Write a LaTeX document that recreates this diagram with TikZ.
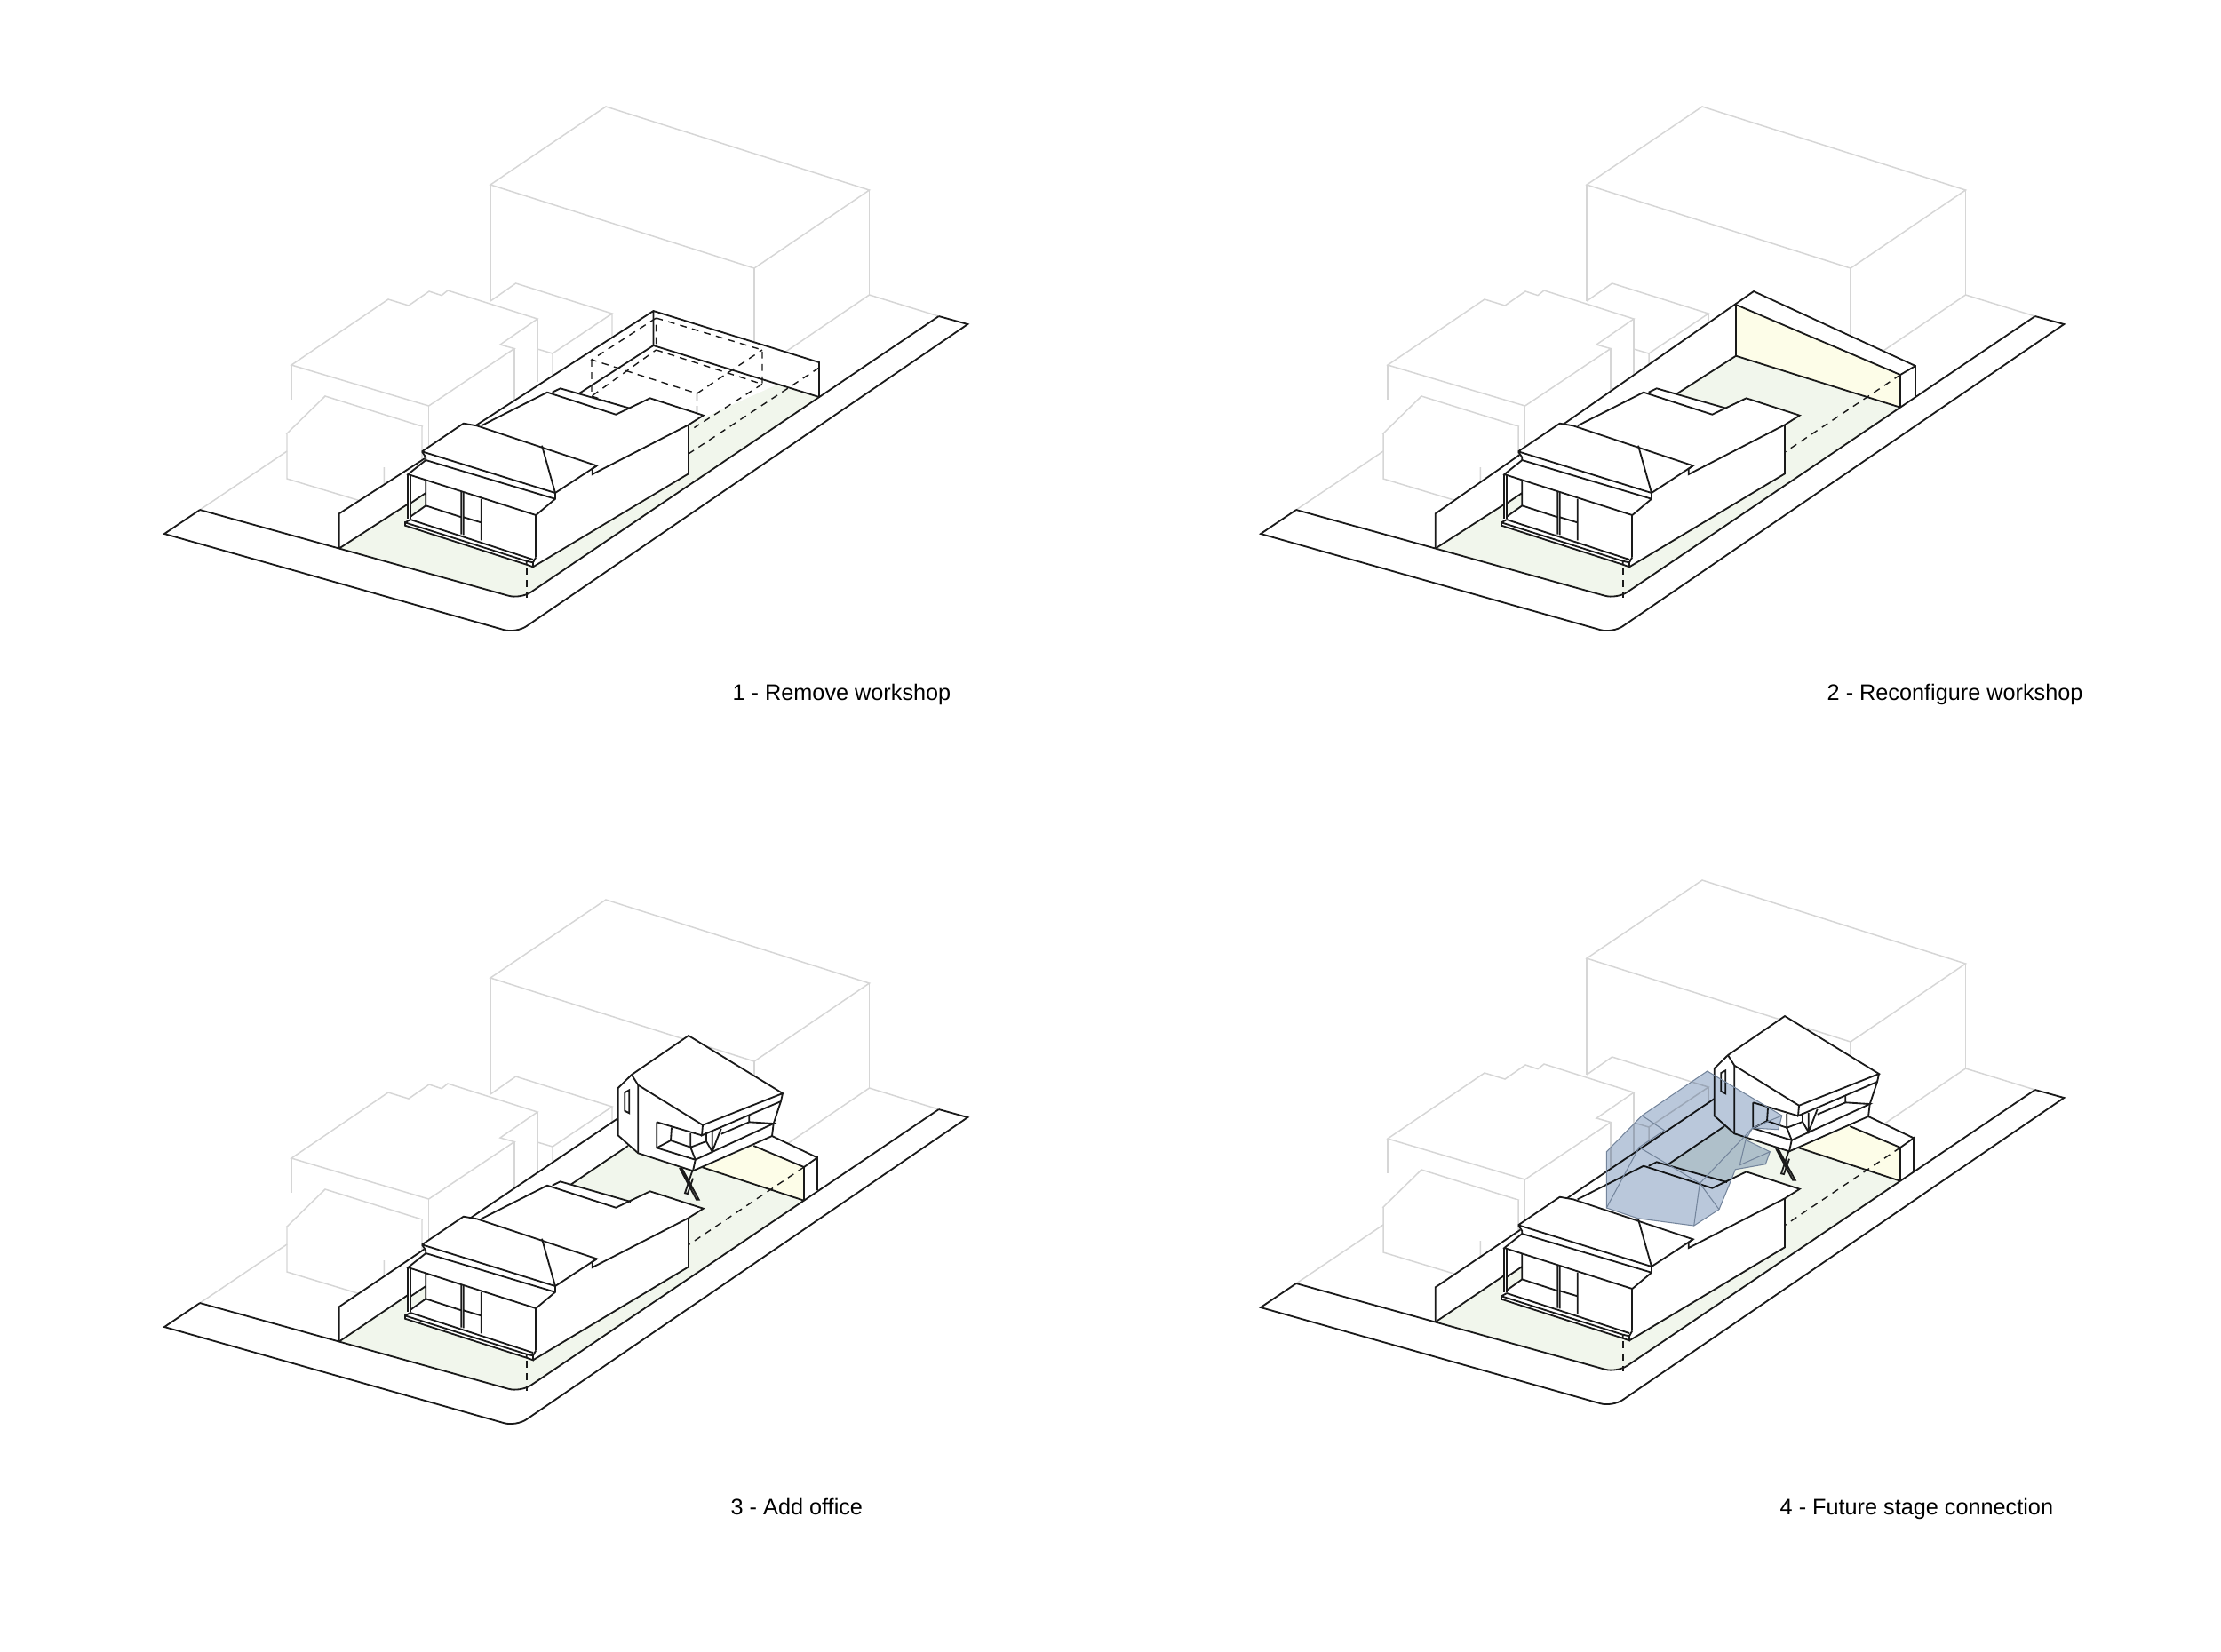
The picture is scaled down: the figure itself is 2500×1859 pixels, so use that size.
\documentclass[tikz,border=0pt]{standalone}
\usepackage{fontspec}
\setmainfont{Liberation Sans}
\usepackage{xcolor}
\definecolor{siteink}{HTML}{1A1A1A}
\definecolor{sitegrey}{HTML}{D6D6D6}
\definecolor{sitegreen}{HTML}{F1F6EC}
\definecolor{siteyellow}{HTML}{FDFDE8}
\definecolor{stageblue}{HTML}{BAC8DB}
\definecolor{stageedge}{HTML}{74859C}
\tikzset{
  inkline/.style={draw=siteink, line width=0.52pt, line join=miter},
  dashline/.style={draw=siteink, line width=0.4pt, dash pattern=on 2.2pt off 1.8pt},
  greyline/.style={draw=sitegrey, line width=0.42pt},
  stageline/.style={draw=stageedge, line width=0.3pt},
  stepcaption/.style={anchor=base west, inner sep=0pt, font=\fontsize{7.18}{9}\selectfont, text=black}
}
\newcommand{\neighbours}{
  \draw[greyline] (552,208) -- (682,120) -- (978.5,214) -- (849,302) -- cycle;
  \draw[greyline] (552,208) -- (552,339) (849,302) -- (849,400) (978.5,214) -- (978.5,332);
  \draw[greyline] (978.5,332) -- (1056.7,356) (978.5,332) -- (880,399);
  \draw[greyline] (552,339) -- (580.6,319) -- (689,353) -- (622,398) -- (605,393) (622,398) -- (622,430) (689,353) -- (689,380);
  \draw[greyline] (328,411) -- (437,337) -- (460,344) -- (483,328) -- (497,332.6) -- (504,327) -- (605,359) -- (563,388) -- (579,392.5) -- (482.6,457) -- cycle;
  \draw[greyline] (605,359) -- (605,430) (579,392.5) -- (579,470) (482.6,457) -- (482.6,510) (328,411) -- (328,450);
  \draw[greyline, fill=white] (323,488) -- (366,446) -- (475,480) -- (432.4,526) -- cycle;
  \draw[greyline, fill=white] (323,488) -- (323,539) -- (432.4,572) -- (475,540) -- (475,480) (432.4,526) -- (432.4,572);
  \draw[greyline] (323,508) -- (225,574);
}
\newcommand{\siteroad}{
  \draw[inkline] (225,574) -- (185,601) [rounded corners=4pt] -- (581,713) [sharp corners] -- (1089.3,365) -- (1056.7,356);
}
\newcommand{\frontedge}{
  \draw[inkline] (225,574) -- (381.7,617.5) [rounded corners=4pt] -- (586,674.5) [sharp corners] -- (1056.7,356);
}
\newcommand{\sitehouse}{
  \fill[white] (475,508.3) -- (521.7,476.7) -- (536.7,479.3) -- (616,441.7) -- (630.7,437.3) -- (710,460) -- (731.7,448.3) -- (791.7,467.7) -- (775,478.3) -- (775,533.3) -- (600,638.3) -- (592.7,635.7) -- (456,591.7) -- (456,588.3) -- (459.3,581.7) -- (459.3,534) -- (479.3,518) -- cycle;
  \fill[sitegreen] (462,566.7) -- (479.3,555) -- (479.3,569.3) -- (462,581.7) -- cycle;
  \draw[inkline] (475,508.3) -- (521.7,476.7) -- (536.7,479.3) -- (671.7,524.3) -- (666.7,527.7) -- (666.7,534) -- (775,478.3) -- (791.7,467.7) -- (731.7,448.3) -- (693.3,466.7) -- (616,441.7) -- (541.7,479.3);
  \draw[inkline] (475,508.3) -- (625,555) -- (671.7,524.3) (610,501.7) -- (625,555);
  \draw[inkline] (621.7,441.7) -- (630.7,437.3) -- (710,460);
  \draw[inkline] (475,508.3) -- (479.3,515) -- (479.3,518) -- (459.3,534) -- (603.3,580) -- (625,561.7) -- (625,555);
  \draw[inkline] (479.3,518) -- (625,561.7);
  \draw[inkline] (775,478.3) -- (775,533.3) -- (600,638.3);
  \draw[inkline] (603.3,580) -- (603.3,627.3) (459.3,534) -- (459.3,584) (462,535) -- (462,584);
  \draw[inkline] (479.3,540.7) -- (479.3,569.3) -- (462,581.7) (479.3,569.3) -- (519.3,582.3) (462,566.7) -- (479.3,555);
  \draw[inkline] (519.3,553.3) -- (519.3,601.7) (521.7,554) -- (521.7,602.3) (541.7,561.7) -- (541.7,608.3) (521.7,582.3) -- (541.7,588.3);
  \draw[inkline] (462,585) -- (600,630) (456,588.3) -- (592.7,631.7) -- (600,633.3) -- (600,638.3) -- (592.7,635.7) -- (456,591.7) -- cycle (592.7,631.7) -- (592.7,635.7) (600,633.3) -- (603.3,627.3) (456,588.3) -- (462,585);
  \draw[dashline] (593,639) -- (593,673);
}
\newcommand{\siteoffice}{
  \fill[white] (775,273) -- (881,338) -- (879,347) -- (870.7,372) -- (869,386) -- (780,425.3) -- (718.3,405.3) -- (695.7,385.3) -- (695.7,332) -- (711,317) -- cycle;
  \draw[inkline] (711,317) -- (775,273) -- (881,338) -- (791,373.7) -- (718.3,328.7) -- (711,317) -- (695.7,332) -- (695.7,385.3) -- (718.3,405.3) -- (780,425.3) -- (869,386) -- (870.7,372) -- (879,347) -- (881,338);
  \draw[inkline] (718.3,328.7) -- (718.3,405.3) (791,373.7) -- (790,385.3) -- (879,347);
  \draw[inkline] (739.3,370.3) -- (790,385.3) (739.3,370.3) -- (739.3,399.3) -- (782.7,412.7) -- (870.7,372) -- (843.3,370.3) -- (843.3,362);
  \draw[inkline] (739.3,399.3) -- (755,391) -- (756,376.3) (755,391) -- (777.3,398.7) -- (782.7,412.7) -- (780,425.3) (777.3,383) -- (777.3,398.7) -- (795,392) -- (801.7,403.7) -- (811.7,377.7) (795,382) -- (795,392) (801.7,382) -- (801.7,403.7) (811.7,383.7) -- (843.3,370.3);
  \draw[inkline, fill=white] (703.3,337) -- (708.3,334.3) -- (708.3,360.3) -- (703.3,357.7) -- cycle;
  \draw[inkline] (765,422) -- (784,457.7) -- (786.7,457.7) -- (767.3,422);
  \draw[inkline] (779.3,425.3) -- (771,450.3) -- (774,451) -- (780,433.7);
}
\newcommand{\officelot}{
  \fill[white] (381.7,578.3) -- (695.7,366) -- (869,386) -- (920,410.3) -- (920,447) -- (905,458.7) -- (586,674) -- (381.7,617.5) -- cycle;
  \fill[sitegreen] (381.7,617.5) [rounded corners=4pt] -- (586,674.5) [sharp corners] -- (905,458.7) -- (790,421) -- (848.3,397) -- (707,397) -- cycle;
  \fill[siteyellow] (848.3,397) -- (905,421) -- (905,458.7) -- (790.7,421.3) -- cycle;
  \draw[inkline] (381.7,617.5) -- (381.7,578.3) -- (695.7,366);
  \draw[inkline] (381.7,617.5) -- (707,397);
  \frontedge
  \draw[inkline] (905,458.7) -- (905,421) -- (920,410.3) -- (920,447) (869,386) -- (920,410.3);
  \draw[inkline] (848.3,397) -- (905,421) (790.7,421.3) -- (905,458.7);
  \draw[dashline] (905,421) -- (605,623);
}
\begin{document}
\begin{tikzpicture}[x=0.01cm, y=-0.01cm]
  \useasboundingbox (0,0) rectangle (2500,1859);
  \fill[white] (0,0) rectangle (2500,1859);

  \begin{scope}
    \neighbours
    \siteroad
    \fill[white] (381.7,578.3) -- (735.5,350) -- (922,408) -- (922,448) -- (586,674) -- (381.7,617.5) -- cycle;
    \fill[sitegreen] (381.7,617.5) [rounded corners=4pt] -- (586,674.5) [sharp corners] -- (922,447) -- (875,433) -- (775,478) -- (620,460) -- cycle;
    \draw[inkline] (381.7,617.5) -- (381.7,578.3) -- (735.5,350) -- (922,408) -- (922,447) (735.5,350) -- (735.5,389) -- (922,447) (735.5,389) -- (381.7,617.5);
    \frontedge
    \draw[dashline] (738.5,358) -- (858,394) -- (858,432.5) -- (738.5,394) -- cycle;
    \draw[dashline] (738.5,358) -- (666,405) -- (784.5,443) -- (858,394);
    \draw[dashline] (666,405) -- (666,446) -- (738.5,394) (666,446) -- (705,459) (784.5,443) -- (784.5,465) (858,432.5) -- (781.4,481.5);
    \draw[dashline] (922,414) -- (605,623);
    \sitehouse
    \node[stepcaption] (capone) at (824,788) {1 - Remove workshop};
  \end{scope}

  \begin{scope}[shift={(1234,0)}]
    \neighbours
    \siteroad
    \fill[white] (381.7,578.3) -- (740,328) -- (922,412) -- (922,447) -- (586,674) -- (381.7,617.5) -- cycle;
    \fill[sitegreen] (381.7,617.5) [rounded corners=4pt] -- (586,674.5) [sharp corners] -- (905,458.7) -- (720,400.7) -- cycle;
    \fill[siteyellow] (720,343) -- (905,422) -- (905,458.7) -- (720,400.7) -- cycle;
    \draw[inkline] (381.7,617.5) -- (381.7,578.3) -- (740,328) -- (922,412) -- (922,447);
    \draw[inkline] (905,458.7) -- (905,422) -- (922,412);
    \draw[inkline] (720,343) -- (905,422) (720,343) -- (720,400.7) -- (905,458.7) (720,400.7) -- (381.7,617.5);
    \frontedge
    \draw[dashline] (905,422) -- (605,623);
    \sitehouse
    \node[stepcaption] (captwo) at (822,788) {2 - Reconfigure workshop};
  \end{scope}

  \begin{scope}[shift={(0,893)}]
    \neighbours
    \siteroad
    \officelot
    \sitehouse
    \siteoffice
    \node[stepcaption] (capthree) at (822,812) {3 - Add office};
  \end{scope}

  \begin{scope}[shift={(1234,871)}]
    \neighbours
    \siteroad
    \officelot
    \sitehouse
    \siteoffice
    \begin{scope}[blend mode=multiply]
      \fill[stageblue] (687.7,335) -- (771.7,385) -- (767.7,400.7) -- (738.7,399) -- (731,412.3) -- (758.3,425.7) -- (753.3,439.7) -- (719.3,445.7) -- (712.7,462.3) -- (701,490.7) -- (672.7,509) -- (609.3,500.7) -- (574.3,489) -- (574.3,425.7) -- (614.3,385) -- cycle;
    \end{scope}
    \draw[stageline] (687.7,335) -- (771.7,385) -- (767.7,400.7) -- (738.7,399) -- (731,412.3) -- (758.3,425.7) -- (753.3,439.7) -- (719.3,445.7) -- (712.7,462.3) -- (701,490.7) -- (672.7,509) -- (609.3,500.7) -- (574.3,489) -- (574.3,425.7) -- (614.3,385) -- cycle;
    \draw[stageline] (614.3,385) -- (639.3,401.7) -- (611,420.7) -- (679.3,461.3) -- (672.7,509) (611,420.7) -- (574.3,489) (679.3,461.3) -- (701,490.7) (679.3,461.3) -- (738.7,399) -- (771.7,385) (731,412.3) -- (724.3,440.7) -- (758.3,425.7);
    \node[stepcaption] (capfour) at (769,834) {4 - Future stage connection};
  \end{scope}
\end{tikzpicture}
\end{document}
